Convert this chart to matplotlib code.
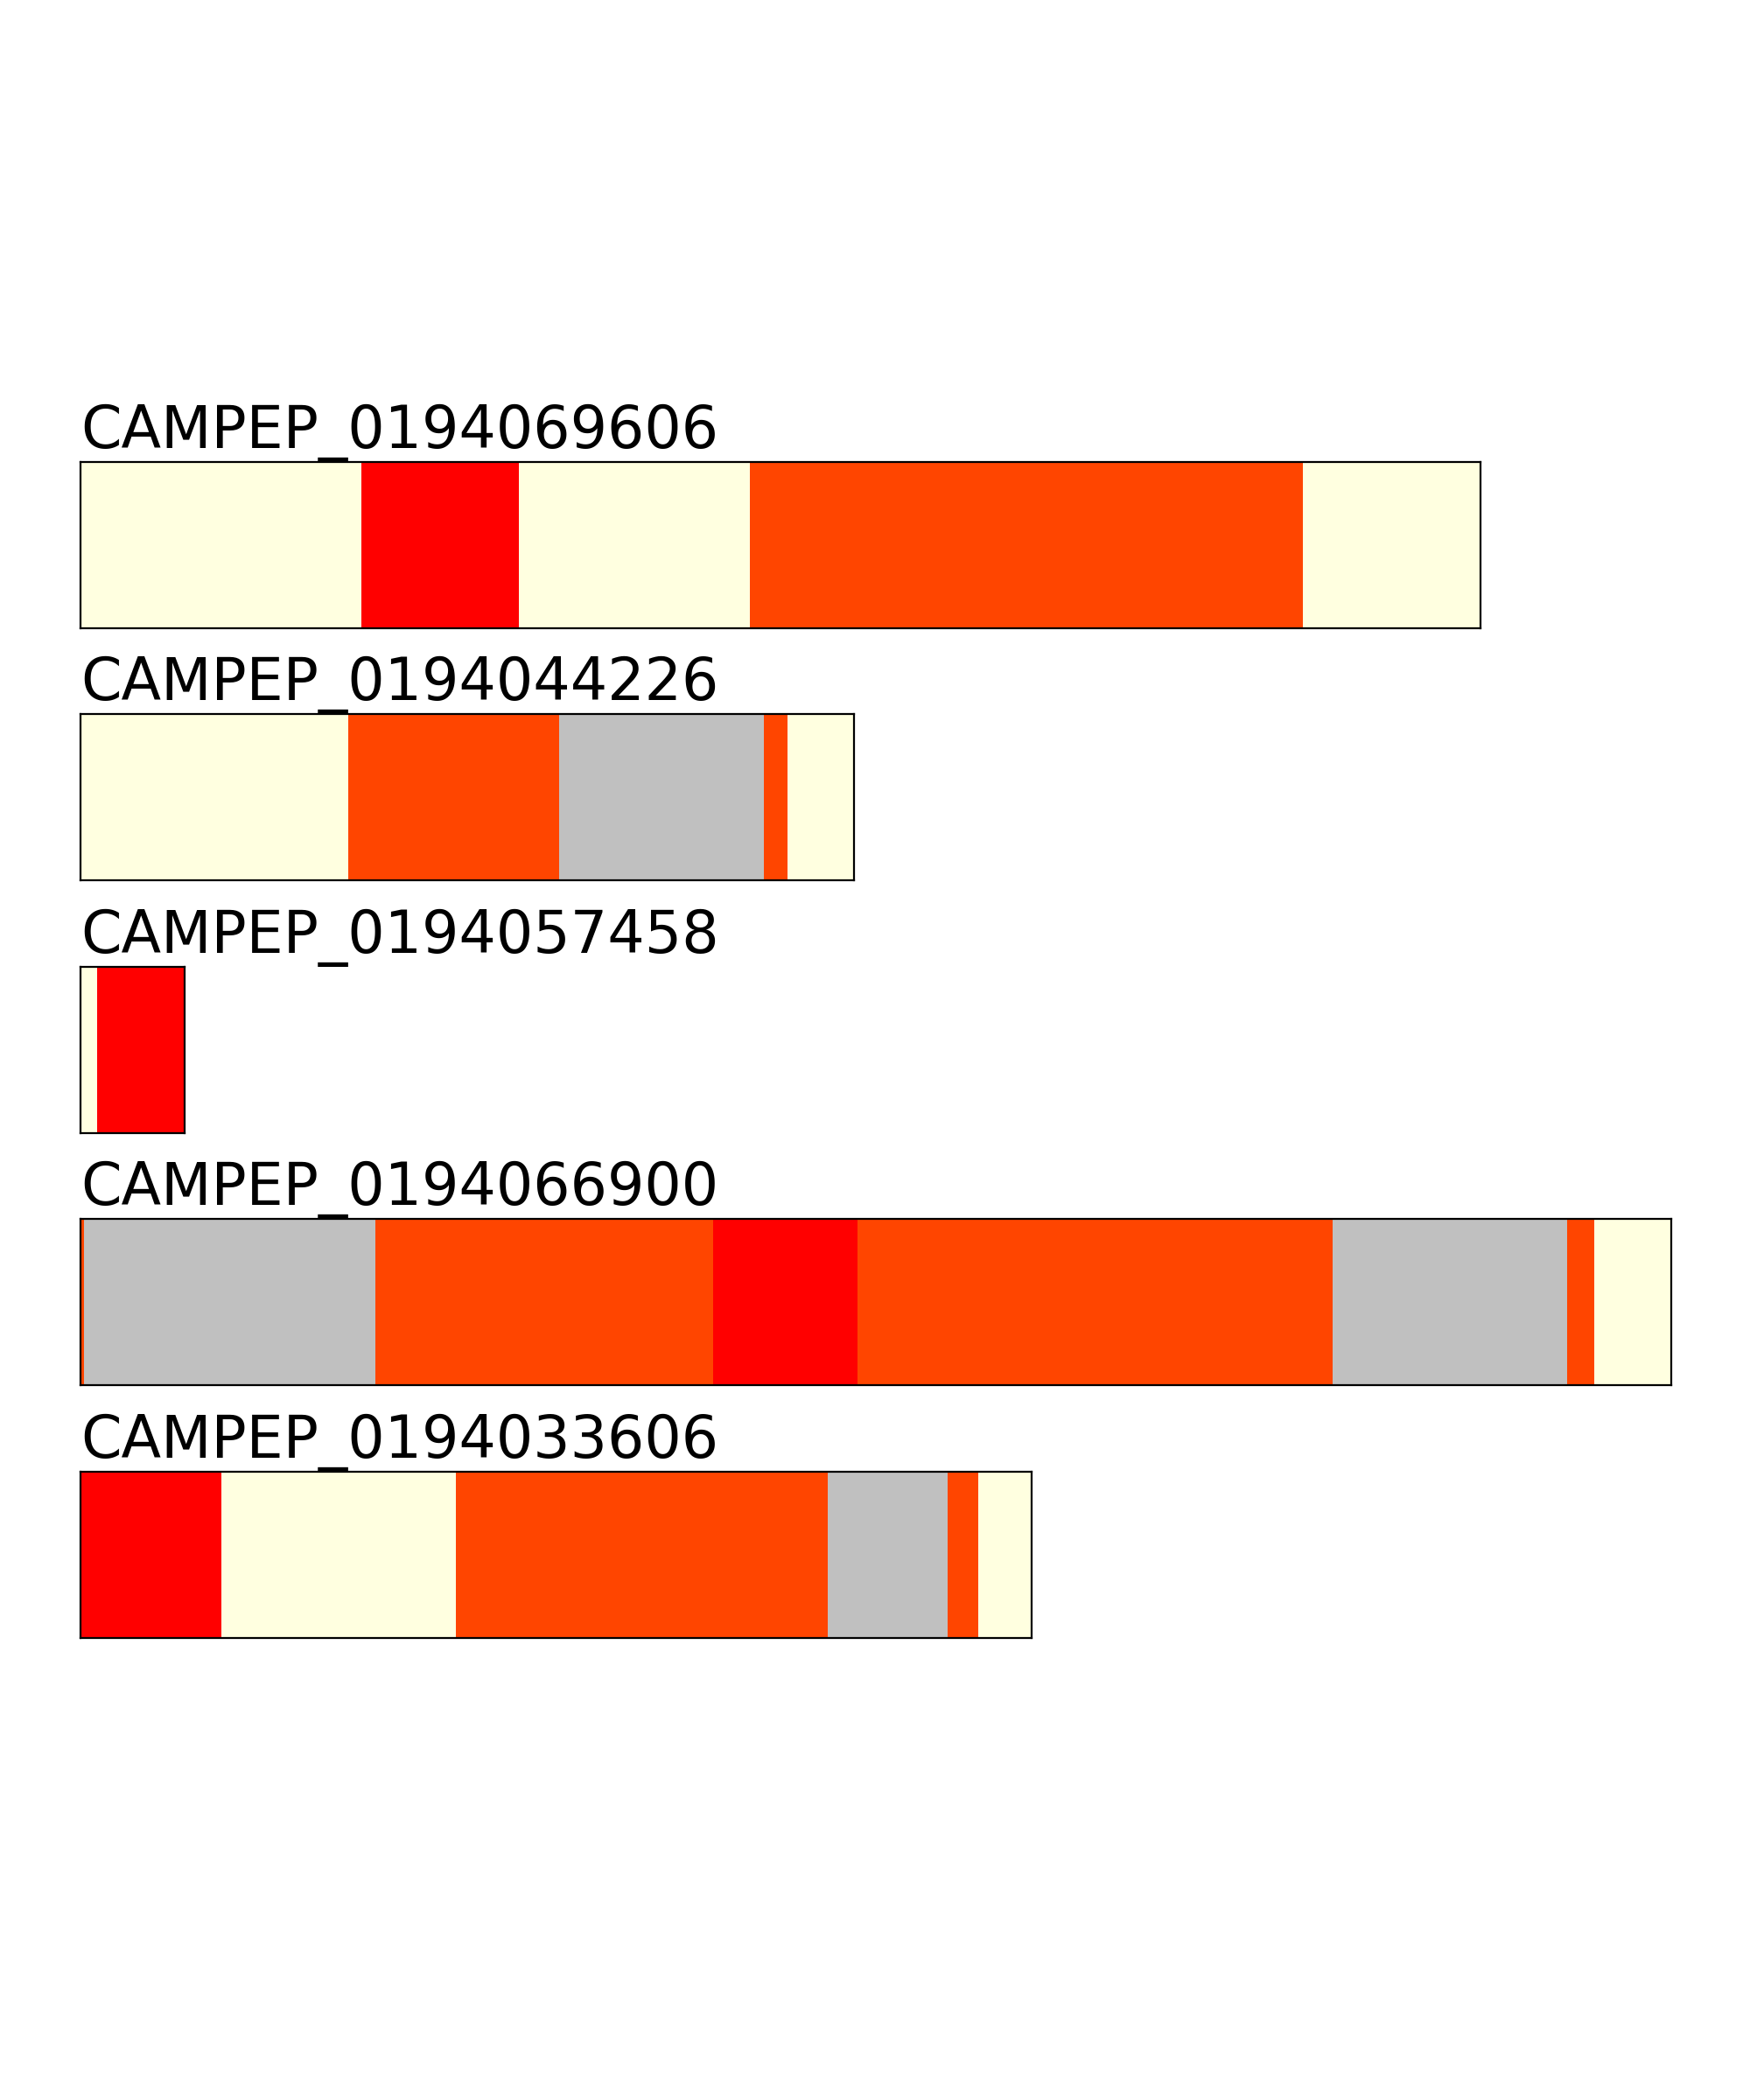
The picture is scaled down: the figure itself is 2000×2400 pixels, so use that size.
import matplotlib.pyplot as plt
import numpy as np

# protein ids, top to bottom
names = ["CAMPEP_0194069606", "CAMPEP_0194044226", "CAMPEP_0194057458",
         "CAMPEP_0194066900", "CAMPEP_0194033606"]

# segment edges (residue positions) and the state of each segment
edges_1 = [0, 84, 131, 200, 365, 418]
states_1 = ["coil", "helix", "coil", "strand", "coil"]

edges_2 = [0, 80, 143, 204, 211, 231]
states_2 = ["coil", "strand", "dis", "strand", "coil"]

edges_3 = [0, 5, 31]
states_3 = ["coil", "helix"]

edges_4 = [0, 1, 88, 189, 232, 374, 444, 452, 475]
states_4 = ["strand", "dis", "strand", "helix", "strand", "dis", "strand", "coil"]

edges_5 = [0, 42, 112, 223, 259, 268, 284]
states_5 = ["helix", "coil", "strand", "dis", "strand", "coil"]

all_edges = [edges_1, edges_2, edges_3, edges_4, edges_5]
all_states = [states_1, states_2, states_3, states_4, states_5]

state_colors = {"coil": "lightyellow", "helix": "red",
                "strand": "orangered", "dis": "silver"}

fig = plt.figure(figsize=(10, 12), dpi=200)

max_len = max(e[-1] for e in all_edges)
left = 0.046
full_w = 0.909
h = 0.079
top0 = 0.78
step = 0.1202

for i in range(len(names)):
    edges = all_edges[i]
    states = all_states[i]
    L = edges[-1]
    ax = fig.add_axes([left, top0 - h - i * step, full_w * L / max_len, h])
    for k in range(len(states)):
        ax.barh(0.5, edges[k + 1] - edges[k], left=edges[k], height=1.0,
                color=state_colors[states[k]], linewidth=0)
    ax.set_xlim(0, L)
    ax.set_ylim(0, 1)
    ax.set_xticks([])
    ax.set_yticks([])
    ax.set_title(names[i], loc="left", fontsize=24, pad=3.8)

fig.savefig("out.png", dpi=200)
